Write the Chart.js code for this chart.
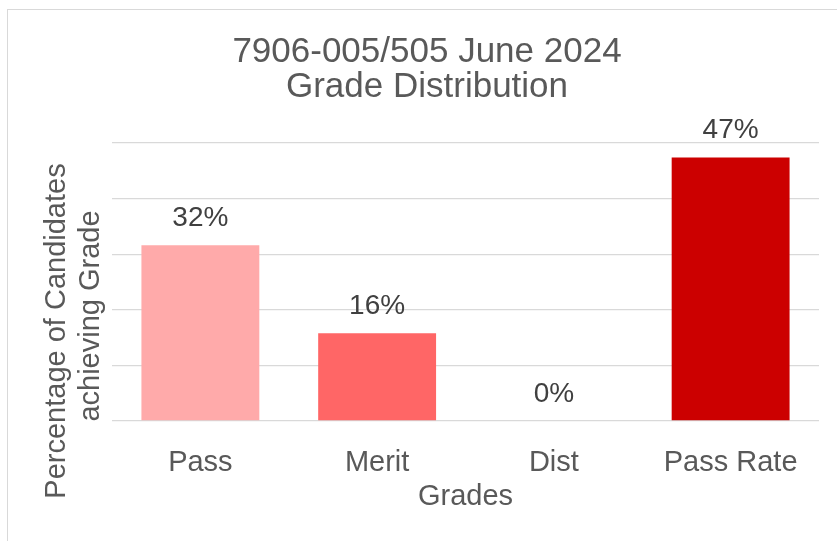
<!DOCTYPE html>
<html>
<head>
<meta charset="utf-8">
<title>Grade Distribution</title>
<script src="https://cdn.jsdelivr.net/npm/chart.js@4.4.1/dist/chart.umd.min.js"></script>
<style>
  html, body { margin: 0; padding: 0; background: #fff; overflow: hidden; }
  #frame {
    position: absolute; left: 7px; top: 9px; width: 900px; height: 600px;
    border-left: 1px solid #d9d9d9; border-top: 1px solid #d9d9d9;
  }
  #chart { position: absolute; left: 0; top: 0; }
</style>
</head>
<body>
<div id="frame"></div>
<canvas id="chart" width="837" height="541"></canvas>
<script>
// chart data
const grades = ["Pass", "Merit", "Dist", "Pass Rate"];
const percentages = [31.6, 15.8, 0, 47.4];
const barColours = ["#ffaaaa", "#ff6666", "#ff6666", "#cc0000"];
const yTicks = [0, 10, 20, 30, 40, 50];

const chartTitle = ["7906-005/505 June 2024", "Grade Distribution"];
const yTitle = ["Percentage of Candidates", "achieving Grade"];
const xTitle = "Grades";

const FONT = "'Liberation Sans', Arial, sans-serif";
const TEXT = "#595959";

// value labels above each bar
const barLabels = {
    id: "barLabels",
    afterDatasetsDraw(chart) {
        const ctx = chart.ctx;
        const meta = chart.getDatasetMeta(0);
        ctx.save();
        ctx.font = "28px " + FONT;
        ctx.fillStyle = "#404040";
        ctx.textAlign = "center";
        ctx.textBaseline = "alphabetic";
        meta.data.forEach((bar, i) => {
            ctx.fillText(Math.round(percentages[i]) + "%", bar.x, bar.y - 19);
        });
        ctx.restore();
    }
};

// two-line y axis title (Excel puts it a bit below the plot centre)
const yAxisTitle = {
    id: "yAxisTitle",
    afterDraw(chart) {
        const ctx = chart.ctx;
        const area = chart.chartArea;
        const shifts = [-90, -105];
        ctx.save();
        ctx.font = "29px " + FONT;
        ctx.fillStyle = TEXT;
        ctx.textAlign = "center";
        ctx.textBaseline = "middle";
        yTitle.forEach((line, i) => {
            ctx.save();
            ctx.translate(area.left - 55 + i * 34, area.bottom + shifts[i]);
            ctx.rotate(-Math.PI / 2);
            ctx.fillText(line, 0, 0);
            ctx.restore();
        });
        ctx.restore();
    }
};

new Chart(document.getElementById("chart"), {
    type: "bar",
    data: {
        labels: grades,
        datasets: [{
            data: percentages,
            backgroundColor: barColours,
            borderWidth: 0,
            barPercentage: 0.667,
            categoryPercentage: 1
        }]
    },
    options: {
        responsive: false,
        animation: false,
        layout: { padding: { left: 35, right: 18, top: 0, bottom: 0 } },
        plugins: {
            legend: { display: false },
            tooltip: { enabled: false },
            title: {
                display: true,
                text: chartTitle,
                color: TEXT,
                font: { family: FONT, size: 35, weight: "normal", lineHeight: 1.0 },
                padding: { top: 35, bottom: 38 }
            }
        },
        scales: {
            x: {
                grid: { display: false },
                border: { display: false },
                ticks: {
                    color: TEXT,
                    font: { family: FONT, size: 29 },
                    padding: 17
                },
                title: {
                    display: true,
                    text: xTitle,
                    color: TEXT,
                    font: { family: FONT, size: 29 },
                    padding: { top: 0, bottom: 27 }
                },
                afterFit(scale) { scale.height = 120; }
            },
            y: {
                min: yTicks[0],
                max: yTicks[yTicks.length - 1],
                afterBuildTicks(scale) { scale.ticks = yTicks.map(v => ({ value: v })); },
                grid: { color: "#d9d9d9", lineWidth: 1.3, drawTicks: false },
                border: { display: false },
                ticks: { display: false },
                afterFit(scale) { scale.width = 77; }
            }
        }
    },
    plugins: [barLabels, yAxisTitle]
});
</script>
</body>
</html>
